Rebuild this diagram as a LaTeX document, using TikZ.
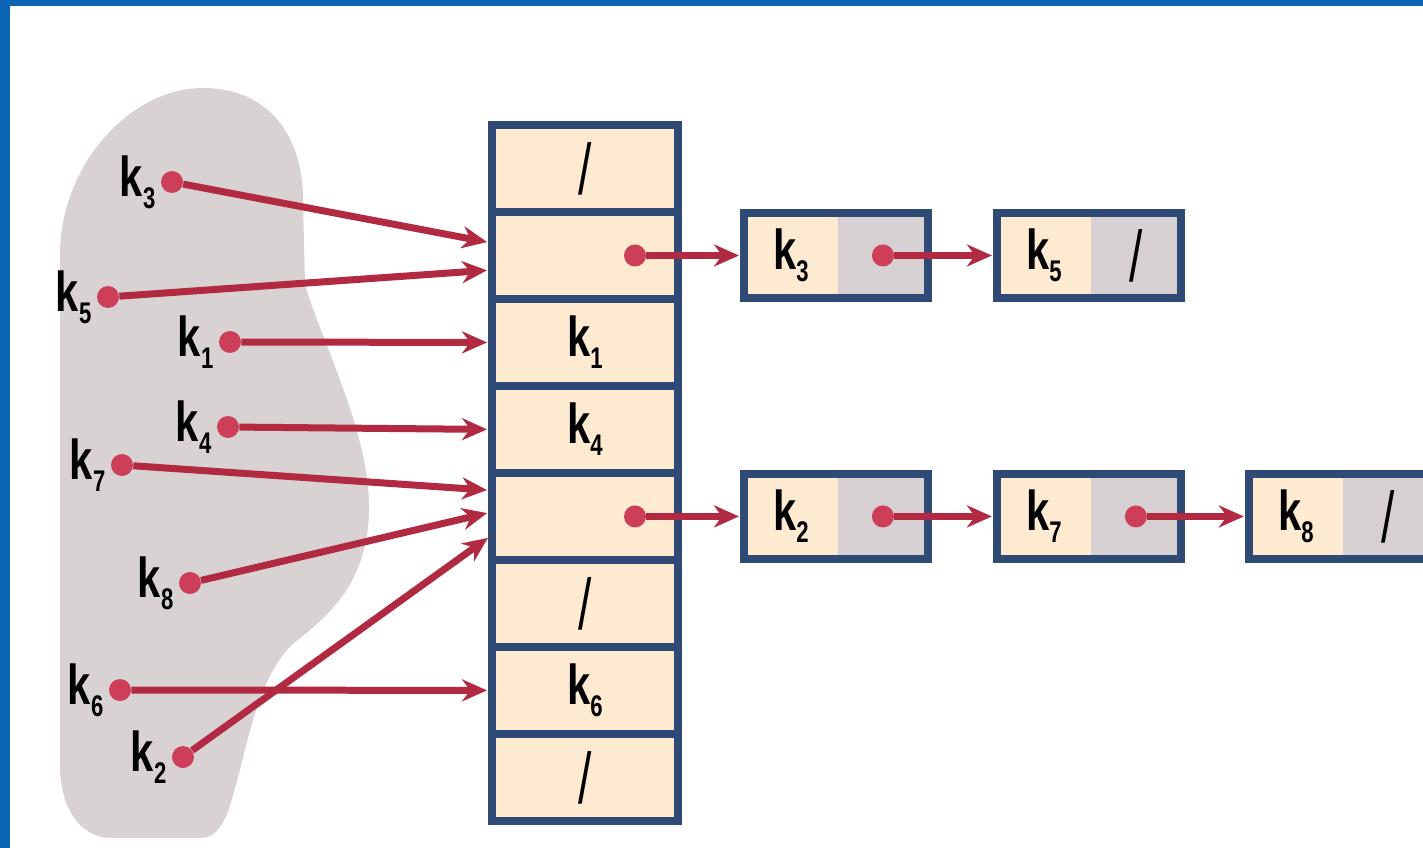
\documentclass[tikz,border=0pt]{standalone}
\usepackage{graphicx}
\usepackage{fontspec}
\setmainfont{Liberation Sans}
\usetikzlibrary{positioning,arrows.meta}

\definecolor{frameblue}{RGB}{10,102,178}
\definecolor{blobgray}{RGB}{216,210,211}
\definecolor{tblue}{RGB}{47,74,116}
\definecolor{peach}{RGB}{253,234,208}
\definecolor{ptrgray}{RGB}{214,208,210}
\definecolor{arrowred}{RGB}{178,42,66}
\definecolor{dotred}{RGB}{205,62,88}

\newcommand{\keyk}[1]{\scalebox{0.74}[1]{\fontsize{32}{32}\selectfont\bfseries k\raisebox{-7pt}{\fontsize{17}{17}\selectfont #1}}}
\newcommand{\nullmark}{\scalebox{0.8}[1.2]{\fontsize{34}{34}\selectfont /}}

\tikzset{
  ptr/.style={draw=arrowred, line width=0.14cm, -{Stealth[length=0.5cm,width=0.44cm]}, shorten >=0.1cm},
  dot/.style={circle, fill=dotred, minimum size=0.44cm, inner sep=0pt},
  cell/.style={draw=tblue, fill=peach, line width=0.15cm, minimum width=3.72cm, minimum height=1.74cm, inner sep=0pt, outer sep=0pt},
  keypart/.style={fill=peach, minimum width=1.88cm, minimum height=1.7cm, inner sep=0pt, outer sep=0pt},
  ptrpart/.style={fill=ptrgray, minimum width=1.8cm, minimum height=1.7cm, inner sep=0pt, outer sep=0pt},
  frame/.style={draw=tblue, line width=0.15cm},
  klabel/.style={inner sep=0pt}
}

\begin{document}
\begin{tikzpicture}[x=0.02cm, y=-0.02cm]
  \useasboundingbox (0,0) rectangle (1423,848);
  \begin{scope}
    \clip (0,0) rectangle (1423,848);
    % slide frame
    \fill[frameblue] (0,0) rectangle (1423,6);
    \fill[frameblue] (0,0) rectangle (10,848);

    % set of keys
    \fill[blobgray] (203,88) .. controls (268,88) and (303,135) .. (303,200)
      -- (305,285) .. controls (325,350) and (368,430) .. (369,505)
      .. controls (370,580) and (330,615) .. (295,642)
      .. controls (265,668) and (252,720) .. (240,770)
      .. controls (230,805) and (225,838) .. (200,838)
      -- (112,838) .. controls (78,838) and (60,805) .. (60,765)
      -- (60,255) .. controls (60,165) and (130,88) .. (203,88) -- cycle;

    % hash table
    \node[cell] (c1) at (585,168.5) {\nullmark};
    \node[cell, below=0pt of c1] (c2) {};
    \node[cell, below=0pt of c2] (c3) {\keyk1};
    \node[cell, below=0pt of c3] (c4) {\keyk4};
    \node[cell, below=0pt of c4] (c5) {};
    \node[cell, below=0pt of c5] (c6) {\nullmark};
    \node[cell, below=0pt of c6] (c7) {\keyk6};
    \node[cell, below=0pt of c7] (c8) {\nullmark};

    % keys
    \node[dot] (d3) at (172,182) {};
    \node[klabel, left=0.1cm of d3] {\keyk3};
    \node[dot] (d5) at (108,297) {};
    \node[klabel, left=0.1cm of d5] {\keyk5};
    \node[dot] (d1) at (230,342) {};
    \node[klabel, left=0.1cm of d1] {\keyk1};
    \node[dot] (d4) at (228,427) {};
    \node[klabel, left=0.1cm of d4] {\keyk4};
    \node[dot] (d7) at (122,465) {};
    \node[klabel, left=0.1cm of d7] {\keyk7};
    \node[dot] (d8) at (190,583) {};
    \node[klabel, left=0.1cm of d8] {\keyk8};
    \node[dot] (d6) at (120,690) {};
    \node[klabel, left=0.1cm of d6] {\keyk6};
    \node[dot] (d2) at (183,757) {};
    \node[klabel, left=0.1cm of d2] {\keyk2};

    \draw[ptr] (d3) -- ([yshift=0.25cm]c2.west);
    \draw[ptr] (d5) -- ([yshift=-0.29cm]c2.west);
    \draw[ptr] (d1) -- (c3.west);
    \draw[ptr] (d4) -- (c4.west);
    \draw[ptr] (d7) -- ([yshift=0.52cm]c5.west);
    \draw[ptr] (d8) -- ([yshift=0.09cm]c5.west);
    \draw[ptr] (d6) -- (c7.west);
    \draw[ptr] (d2) -- ([yshift=-0.37cm]c5.west);

    % chain of slot 2
    \node[keypart, right=1.32cm of c2] (a1) {\keyk3};
    \node[ptrpart, right=0pt of a1] (a1p) {};
    \draw[frame] (a1.north west) rectangle (a1p.south east);
    \node[keypart, right=1.38cm of a1p] (a2) {\keyk5};
    \node[ptrpart, right=0pt of a2] (a2p) {\nullmark};
    \draw[frame] (a2.north west) rectangle (a2p.south east);

    \node[dot] (p2) at ([xshift=1cm]c2.center) {};
    \node[dot] (a1d) at (a1p) {};
    \draw[ptr] (p2) -- (a1);
    \draw[ptr] (a1d) -- (a2);

    % chain of slot 5
    \node[keypart, right=1.32cm of c5] (b1) {\keyk2};
    \node[ptrpart, right=0pt of b1] (b1p) {};
    \draw[frame] (b1.north west) rectangle (b1p.south east);
    \node[keypart, right=1.38cm of b1p] (b2) {\keyk7};
    \node[ptrpart, right=0pt of b2] (b2p) {};
    \draw[frame] (b2.north west) rectangle (b2p.south east);
    \node[keypart, right=1.36cm of b2p] (b3) {\keyk8};
    \node[ptrpart, right=0pt of b3] (b3p) {\nullmark};
    \draw[frame] (b3.north west) rectangle (b3p.south east);

    \node[dot] (p5) at ([xshift=1cm]c5.center) {};
    \node[dot] (b1d) at (b1p) {};
    \node[dot] (b2d) at (b2p) {};
    \draw[ptr] (p5) -- (b1);
    \draw[ptr] (b1d) -- (b2);
    \draw[ptr] (b2d) -- (b3);
  \end{scope}
\end{tikzpicture}
\end{document}
